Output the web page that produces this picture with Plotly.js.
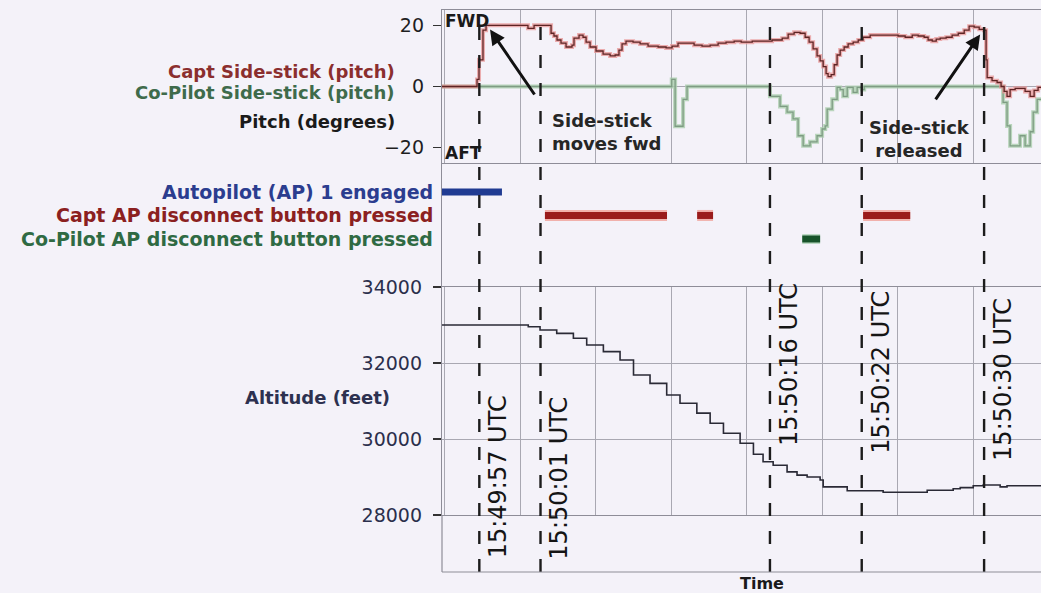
<!DOCTYPE html>
<html><head><meta charset="utf-8">
<script src="https://cdn.plot.ly/plotly-3.0.1.min.js"></script>
<style>html,body{margin:0;padding:0;background:#f4f2f9;overflow:hidden}#chart{width:1041px;height:593px}</style>
</head><body><div id="chart"></div>
<script>
// Time in seconds relative to 15:50:00 UTC
const captTime = [-5.44,-3.28,-3.15,-3.02,-2.82,-2.76,-2.56,0.12,0.18,0.51,0.58,1.62,1.69,1.88,2.08,2.34,2.67,3.06,3.19,3.52,3.78,3.98,4.24,4.63,5.09,5.55,5.88,6.13,6.33,6.59,7.05,7.51,8.03,8.69,9.21,9.60,9.99,10.52,11.04,11.56,12.09,12.61,13.13,13.66,14.12,14.84,15.49,16.14,16.80,17.19,17.58,17.97,18.30,18.56,18.82,19.08,19.28,19.48,19.67,19.80,20.00,20.20,20.39,20.59,20.85,21.11,21.44,21.77,22.09,22.55,23.20,23.86,24.38,24.84,25.30,25.69,26.08,26.34,26.61,26.87,27.13,27.52,27.91,28.31,28.70,29.02,29.35,29.68,30.00,30.13,30.20,30.52,30.85,31.11,31.31,31.50,31.70,32.03,32.35,32.68,33.01,33.27,33.53,33.72];
const captPitch = [0,0,2.3,8.7,8.7,18.4,20,20,19,19,20,20,17.4,16.5,15.2,14.2,12.9,13.5,15.8,16.8,16.1,14.5,12.9,11.6,10.6,10.0,10.3,11.9,13.9,14.8,14.5,13.9,13.2,12.9,12.6,13.2,14.2,14.2,13.5,13.2,13.5,14.2,14.5,14.8,14.5,14.8,14.8,15.2,15.8,17.1,17.7,17.4,16.1,14.5,12.3,10.0,8.4,6.5,4.2,3.2,3.9,7.1,10.3,11.9,12.9,13.9,14.5,15.2,16.1,16.8,16.8,16.8,16.5,16.1,16.8,16.5,16.1,15.2,14.8,15.5,15.8,16.1,16.8,17.4,18.4,19.7,19.4,18.7,18.4,8.7,2.9,1.9,1.3,0,-1.6,-3.2,-1.0,-0.6,-0.6,-1.6,-3.2,-1.3,-0.3,-0.3];

const coPilotTime = [-5.44,9.58,9.80,10.32,10.58,16.0,16.66,17.12,17.51,17.84,18.17,18.62,19.08,19.41,19.61,19.74,20.07,20.39,20.59,20.79,21.05,21.44,21.70,22.03,22.16,31.24,31.50,31.70,32.35,32.68,33.01,33.21,33.47,33.72];
const coPilotPitch = [0,2.3,-13.0,-4.2,0,-3.2,-6.5,-8.4,-10.6,-16.1,-19.4,-18.1,-16.1,-13.9,-12.9,-7.4,-4.2,-0.3,-1.0,-3.2,-0.3,-1.9,-0.3,-1.0,0,-5.2,-12.9,-19.4,-16.1,-19.4,-14.8,-8.4,-4.2,-4.2];

const altTime = [-5.44,0.20,0.97,2.06,3.15,4.02,5.11,6.20,7.08,8.16,9.25,10.12,11.22,12.09,12.96,14.05,14.92,15.55,16.21,17.12,17.77,18.43,19.28,19.48,21.05,23.40,26.28,27.98,28.44,29.29,29.94,31.05,31.50,33.72];
const altFeet = [33000,32955,32870,32780,32650,32475,32300,32080,31685,31465,31160,30940,30680,30415,30150,29890,29600,29400,29310,29135,29050,29000,28920,28740,28640,28600,28650,28690,28720,28770,28790,28740,28770,28770];

const apEngagedStart = [-5.44], apEngagedEnd = [-1.52];
const captApStart = [1.29, 11.24, 22.09], captApEnd = [9.27, 12.28, 25.17];
const coApStart = [18.11], coApEnd = [19.28];

const eventTimes = [-3, 1, 16, 22, 30];
const eventLabels = ['15:49:57 UTC','15:50:01 UTC','15:50:16 UTC','15:50:22 UTC','15:50:30 UTC'];
const pitchLabels = ['Capt Side-stick (pitch)','Co-Pilot Side-stick (pitch)','Pitch (degrees)'];
const apRowLabels = ['Autopilot (AP) 1 engaged','Capt AP disconnect button pressed','Co-Pilot AP disconnect button pressed'];
const altitudeLabel = 'Altitude (feet)';

// ---- presentation ----
const FONT = "'DejaVu Sans', sans-serif";
const GRID = '#a9a8b2', FRAME = '#8e8d98';
const XR = [-5.44, 33.72];
const PITCH_RANGE = [-25, 25], ALT_RANGE = [28000, 34000];
const PITCH_DOM = [0.7278, 1], AP_DOM = [0.5071, 0.7278], ALT_DOM = [0.1014, 0.5071];
function seg(s, e, row){ const x=[],y=[]; s.forEach((v,i)=>{x.push(v,e[i],null);y.push(row,row,null);}); return {x,y}; }

const traces = [];
traces.push({x:coPilotTime,y:coPilotPitch,mode:'lines',line:{shape:'hv',color:'rgba(170,205,172,0.8)',width:4},xaxis:'x',yaxis:'y'});
traces.push({x:coPilotTime,y:coPilotPitch,mode:'lines',line:{shape:'hv',color:'#7e9c83',width:1.3},xaxis:'x',yaxis:'y'});
traces.push({x:captTime,y:captPitch,mode:'lines',line:{shape:'hv',color:'rgba(232,150,150,0.75)',width:4},xaxis:'x',yaxis:'y'});
traces.push({x:captTime,y:captPitch,mode:'lines',line:{shape:'hv',color:'#5e2424',width:1.3},xaxis:'x',yaxis:'y'});

const b = seg(apEngagedStart, apEngagedEnd, 3);
traces.push({x:b.x,y:b.y,mode:'lines',line:{color:'#203b92',width:7},xaxis:'x2',yaxis:'y2'});
const r = seg(captApStart, captApEnd, 2);
traces.push({x:r.x,y:r.y,mode:'lines',line:{color:'rgba(240,150,140,0.7)',width:11},xaxis:'x2',yaxis:'y2'});
traces.push({x:r.x,y:r.y,mode:'lines',line:{color:'#9a1c1c',width:7},xaxis:'x2',yaxis:'y2'});
const g = seg(coApStart, coApEnd, 1);
traces.push({x:g.x,y:g.y,mode:'lines',line:{color:'rgba(150,200,160,0.6)',width:10},xaxis:'x2',yaxis:'y2'});
traces.push({x:g.x,y:g.y,mode:'lines',line:{color:'#17532a',width:7},xaxis:'x2',yaxis:'y2'});

traces.push({x:altTime,y:altFeet,mode:'lines',line:{shape:'hv',color:'#2a2a36',width:1.6},xaxis:'x3',yaxis:'y3'});

// minor-tick ladders (axis decoration): markers just left of the axis, not clipped
const TICKX = XR[0] - 0.24;
const pLad = [], aLad = [];
for(let v=PITCH_RANGE[0]+1; v<PITCH_RANGE[1]; v+=2) pLad.push(v);
for(let v=ALT_RANGE[0]; v<=ALT_RANGE[1]; v+=200) aLad.push(v);
traces.push({x:pLad.map(()=>TICKX),y:pLad,mode:'markers',cliponaxis:false,marker:{symbol:'line-ew',size:7,line:{color:'#3e3d48',width:1.2}},xaxis:'x',yaxis:'y'});
traces.push({x:aLad.map(()=>TICKX),y:aLad,mode:'markers',cliponaxis:false,marker:{symbol:'line-ew',size:7,line:{color:'#3e3d48',width:1.2}},xaxis:'x3',yaxis:'y3'});

const shapes = [];
eventTimes.forEach(t=>shapes.push({type:'line',xref:'x',yref:'paper',x0:t,x1:t,y0:0,y1:0.985,line:{color:'#1c1c1c',width:2.4,dash:'13px,15px'}}));
shapes.push({type:'line',xref:'paper',yref:'paper',x0:0,x1:1,y0:0,y1:0,line:{color:FRAME,width:1.2}});
shapes.push({type:'line',xref:'paper',yref:'paper',x0:0,x1:0,y0:0,y1:ALT_DOM[0],line:{color:FRAME,width:1.2}});

const annotations = [];
const pitchColors = ['#8b2e2e','#3f6b4b','#1a1a1a'];
const pitchLabelY = [4.9,-2.0,-11.4];
pitchLabels.forEach((t,i)=>annotations.push({xref:'paper',yref:'y',x:0,xshift:-45,xanchor:'right',y:pitchLabelY[i],yanchor:'middle',text:t,showarrow:false,font:{family:FONT,size:18,color:pitchColors[i],weight:'bold'}}));
const apColors = ['#2b3d8f','#8b2020','#2f6a43'];
apRowLabels.forEach((t,i)=>annotations.push({xref:'paper',yref:'y2',x:0,xshift:-7,xanchor:'right',y:3-i,yanchor:'middle',text:t,showarrow:false,font:{family:FONT,size:19,color:apColors[i],weight:'bold'}}));
annotations.push({xref:'paper',yref:'y3',x:0,xshift:-50,xanchor:'right',y:31080,yanchor:'middle',text:altitudeLabel,showarrow:false,font:{family:FONT,size:18,color:'#2d3150',weight:'bold'}});
annotations.push({xref:'paper',yref:'y',x:0,xshift:1,xanchor:'left',y:21.3,yanchor:'middle',text:'FWD',showarrow:false,font:{family:FONT,size:17,color:'#1a1a1a',weight:'bold'}});
annotations.push({xref:'paper',yref:'y',x:0,xshift:1,xanchor:'left',y:-21.9,yanchor:'middle',text:'AFT',showarrow:false,font:{family:FONT,size:17,color:'#1a1a1a',weight:'bold'}});
const labelY = [0.169,0.167,0.370,0.356,0.342];
eventLabels.forEach((t,i)=>annotations.push({xref:'x',yref:'paper',x:eventTimes[i],xshift:19,xanchor:'center',y:labelY[i],yanchor:'middle',text:t,textangle:-90,showarrow:false,font:{family:FONT,size:24,color:'#151515'}}));
annotations.push({xref:'x',yref:'y',x:1.62,xanchor:'left',y:-14.9,yanchor:'middle',align:'left',text:'Side-stick<br>moves fwd',showarrow:false,font:{family:FONT,size:18,color:'#262626',weight:'bold'}});
annotations.push({xref:'x',yref:'y',x:25.75,xanchor:'center',y:-17.3,yanchor:'middle',align:'center',text:'Side-stick<br>released',showarrow:false,font:{family:FONT,size:18,color:'#262626',weight:'bold'}});
annotations.push({xref:'x',yref:'y',x:-2.30,y:18.6,ax:48,ay:70,text:' ',showarrow:true,arrowhead:2,arrowsize:1,arrowwidth:3,arrowcolor:'#111',standoff:0});
annotations.push({xref:'x',yref:'y',x:29.74,y:17.0,ax:-48,ay:70,text:' ',showarrow:true,arrowhead:2,arrowsize:1,arrowwidth:3,arrowcolor:'#111',standoff:0});
annotations.push({xref:'x',yref:'paper',x:15.49,y:-0.021,xanchor:'center',yanchor:'middle',text:'Time',showarrow:false,font:{family:FONT,size:16,color:'#1a1a1a',weight:'bold'}});

const xbase = {range:XR,showticklabels:false,ticks:'',zeroline:false,fixedrange:true};
const layout = {
  width:1041,height:593,margin:{l:442,r:0,t:10,b:21},
  paper_bgcolor:'#f4f2f9',plot_bgcolor:'#f4f2f9',showlegend:false,hovermode:false,
  font:{family:FONT,color:'#1a1a1a'},
  xaxis:Object.assign({},xbase,{anchor:'y',showgrid:true,gridcolor:GRID,gridwidth:1,tick0:-0.34,dtick:4.94,showline:true,mirror:true,linecolor:FRAME,linewidth:1.2}),
  xaxis2:Object.assign({},xbase,{anchor:'y2',showgrid:false,showline:false}),
  xaxis3:Object.assign({},xbase,{anchor:'y3',showgrid:true,gridcolor:GRID,gridwidth:1,tick0:-0.34,dtick:4.94,showline:true,mirror:true,linecolor:FRAME,linewidth:1.2}),
  yaxis:{domain:PITCH_DOM,range:PITCH_RANGE,tickmode:'linear',tick0:-20,dtick:20,ticks:'outside',ticklen:8,tickwidth:1.3,tickcolor:'#333',ticklabelstandoff:5,
    showgrid:false,zeroline:true,zerolinecolor:GRID,zerolinewidth:1.2,
    showline:true,linecolor:FRAME,linewidth:1.2,tickfont:{family:FONT,size:19,color:'#1f1f1f'},fixedrange:true},
  yaxis2:{domain:AP_DOM,range:[-1.04,4.23],showticklabels:false,ticks:'',showgrid:false,zeroline:false,showline:true,linecolor:FRAME,linewidth:1.2,fixedrange:true},
  yaxis3:{domain:ALT_DOM,range:ALT_RANGE,tickmode:'linear',tick0:28000,dtick:2000,tickformat:'d',ticks:'outside',ticklen:8,tickwidth:1.3,tickcolor:'#333',ticklabelstandoff:7,
    showgrid:true,gridcolor:GRID,gridwidth:1,zeroline:false,
    showline:true,linecolor:FRAME,linewidth:1.2,tickfont:{family:FONT,size:19,color:'#2b2f4c'},fixedrange:true},
  shapes:shapes,annotations:annotations
};
Plotly.newPlot('chart',traces,layout,{displayModeBar:false,staticPlot:true});
</script></body></html>
